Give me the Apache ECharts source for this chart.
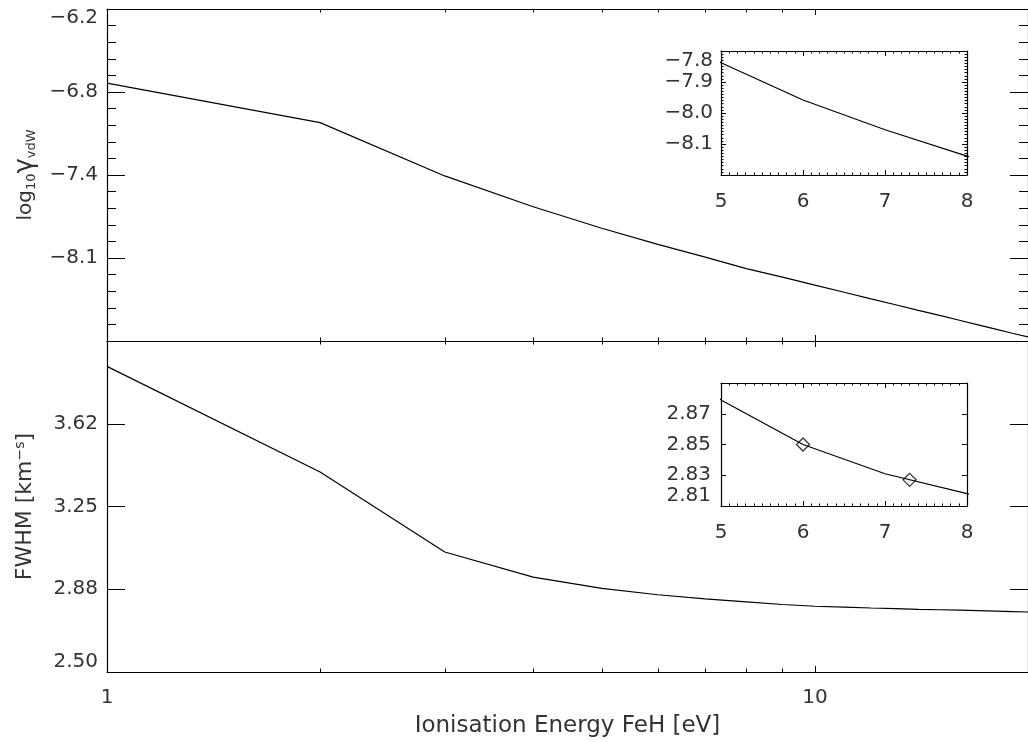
<!DOCTYPE html>
<html>
<head>
<meta charset="utf-8">
<title>FeH van der Waals damping vs ionisation energy</title>
<script src="https://cdn.jsdelivr.net/npm/echarts@6/dist/echarts.min.js"></script>
<style>
  html, body { margin: 0; padding: 0; background: #ffffff; }
  #chart { width: 1028px; height: 742px; }
</style>
</head>
<body>
<div id="chart"></div>
<script>
// Ionisation energy of the perturber (eV)
const energies = [1, 2, 3, 4, 5, 6, 7, 8, 9, 10, 11, 12, 13, 14, 15, 16, 17, 18, 19, 20];
// log10 of the van der Waals damping constant
const logGamma = [-6.754, -7.049, -7.447, -7.677, -7.838, -7.958, -8.054, -8.139, -8.203, -8.263,
                  -8.316, -8.365, -8.409, -8.451, -8.489, -8.525, -8.559, -8.591, -8.622, -8.650];
// Line width (FWHM, km/s)
const fwhm = [3.885, 3.406, 3.044, 2.930, 2.879, 2.850, 2.831, 2.818, 2.806, 2.798,
              2.794, 2.790, 2.787, 2.784, 2.782, 2.780, 2.778, 2.776, 2.774, 2.772];
// Highlighted energies in the FWHM zoom panel
const markerEnergies = [6.0, 7.3];
const markerFwhm = [2.850, 2.827];

// Axis ranges and tick labels
const xRange = [1, 20];
const xMajorTicks = [1, 10];
const xMinorTicks = [2, 3, 4, 5, 6, 7, 8, 9, 20];
const gammaTicks = [-8.68, -8.06, -7.44, -6.82, -6.20];
const gammaTickText = ['', '\u22128.1', '\u22127.4', '\u22126.8', '{edge|\u22126.2}'];
const fwhmTicks = [2.5, 2.875, 3.25, 3.625, 4.0];
const fwhmTickText = ['2.50', '2.88', '3.25', '3.62', ''];
const zoomXTicks = [5, 6, 7, 8];
const zoomGammaTicks = [-8.2, -8.1, -8.0, -7.9, -7.8];
const zoomGammaText = ['', '\u22128.1', '\u22128.0', '\u22127.9', '\u22127.8'];
const zoomFwhmTicks = [2.81, 2.83, 2.85, 2.87, 2.89];
const zoomFwhmText = ['2.81', '2.83', '2.85', '2.87', ''];

const FONT = 'DejaVu Sans';
const INK = '#000000';
const TEXT = '#333333';

function labelLookup(ticks, texts) {
  return function (v) {
    let best = 0;
    for (let i = 1; i < ticks.length; i++) {
      if (Math.abs(ticks[i] - v) < Math.abs(ticks[best] - v)) best = i;
    }
    return texts[best];
  };
}

const axisLineStyle = { show: true, onZero: false, lineStyle: { color: INK, width: 1.2 } };
const noLine = { show: false, onZero: false };
const labelStyle = { fontFamily: FONT, fontSize: 20, color: TEXT };

function logAxis(grid, position, ticks, len, withLine, labels) {
  return {
    gridIndex: grid, type: 'log', logBase: 10, min: xRange[0], max: xRange[1],
    position: position,
    axisLine: withLine ? axisLineStyle : noLine,
    axisTick: { show: true, inside: true, length: len, customValues: ticks,
                lineStyle: { color: INK, width: 1 } },
    axisLabel: labels ? Object.assign({ show: true, margin: 16, customValues: labels,
                formatter: v => String(Math.round(v)) }, labelStyle) : { show: false },
    splitLine: { show: false }
  };
}

function zoomXAxis(grid, position, withLabels) {
  return {
    gridIndex: grid, type: 'value', min: zoomXTicks[0], max: zoomXTicks[zoomXTicks.length - 1],
    interval: 1, position: position,
    axisLine: axisLineStyle,
    axisTick: { show: true, inside: true, length: 5, lineStyle: { color: INK, width: 1 } },
    minorTick: { show: true, splitNumber: 10, length: 2.5, lineStyle: { color: INK, width: 1 } },
    axisLabel: withLabels ? Object.assign({ show: true, margin: 17,
                formatter: v => String(Math.round(v)) }, labelStyle) : { show: false },
    splitLine: { show: false }, minorSplitLine: { show: false }
  };
}

const hiddenY = g => ({ gridIndex: g, type: 'value', show: false, min: 0, max: 1 });

const xAxes = [
  // main top panel: major ticks (grid 0) and minor ticks (grid 1)
  logAxis(0, 'bottom', xMajorTicks, 6, true, null),
  logAxis(0, 'top', xMajorTicks, 6, true, null),
  logAxis(1, 'bottom', xMinorTicks, 3.5, false, null),
  logAxis(1, 'top', xMinorTicks, 3.5, false, null),
  // main bottom panel
  Object.assign(logAxis(2, 'bottom', xMajorTicks, 6, true, xMajorTicks), {
    name: 'Ionisation Energy FeH [eV]', nameLocation: 'middle', nameGap: 43,
    nameTextStyle: { fontFamily: FONT, fontSize: 23, color: TEXT }
  }),
  logAxis(2, 'top', xMajorTicks, 6, true, null),
  logAxis(3, 'bottom', xMinorTicks, 3.5, false, null),
  logAxis(3, 'top', xMinorTicks, 3.5, false, null),
  // zoom panels
  zoomXAxis(4, 'bottom', true),
  zoomXAxis(4, 'top', false),
  zoomXAxis(5, 'bottom', true),
  zoomXAxis(5, 'top', false)
];

function gammaAxis(position, withLabels) {
  return {
    gridIndex: 0, type: 'value', position: position,
    min: gammaTicks[0], max: gammaTicks[gammaTicks.length - 1],
    interval: gammaTicks[1] - gammaTicks[0],
    axisLine: axisLineStyle,
    axisTick: { show: true, inside: true, length: 18, lineStyle: { color: INK, width: 1 } },
    minorTick: { show: true, splitNumber: 5, length: 9, lineStyle: { color: INK, width: 1 } },
    axisLabel: withLabels ? Object.assign({ show: true, margin: 9,
                formatter: labelLookup(gammaTicks, gammaTickText),
                rich: { edge: { fontFamily: FONT, fontSize: 20, color: TEXT, padding: [18, 0, 0, 0] } }
              }, labelStyle) : { show: false },
    splitLine: { show: false }, minorSplitLine: { show: false }
  };
}

function fwhmAxis(position, withLabels) {
  return {
    gridIndex: 2, type: 'value', position: position,
    min: fwhmTicks[0], max: fwhmTicks[fwhmTicks.length - 1],
    axisLine: axisLineStyle,
    axisTick: { show: true, inside: true, length: 18, customValues: fwhmTicks,
                lineStyle: { color: INK, width: 1 } },
    axisLabel: withLabels ? Object.assign({ show: true, margin: 9, customValues: fwhmTicks,
                formatter: labelLookup(fwhmTicks, fwhmTickText),
                verticalAlignMinLabel: 'bottom' }, labelStyle) : { show: false },
    splitLine: { show: false }
  };
}

function zoomGammaAxis(position, withLabels) {
  return {
    gridIndex: 4, type: 'value', position: position,
    min: zoomGammaTicks[0], max: zoomGammaTicks[zoomGammaTicks.length - 1], interval: 0.1,
    axisLine: axisLineStyle,
    axisTick: { show: true, inside: true, length: 5, lineStyle: { color: INK, width: 1 } },
    minorTick: { show: true, splitNumber: 10, length: 2.5, lineStyle: { color: INK, width: 1 } },
    axisLabel: withLabels ? Object.assign({ show: true, margin: 8,
                formatter: labelLookup(zoomGammaTicks, zoomGammaText),
                verticalAlignMaxLabel: 'top' }, labelStyle) : { show: false },
    splitLine: { show: false }, minorSplitLine: { show: false }
  };
}

function zoomFwhmAxis(position, withLabels) {
  return {
    gridIndex: 5, type: 'value', position: position,
    min: zoomFwhmTicks[0], max: zoomFwhmTicks[zoomFwhmTicks.length - 1],
    axisLine: axisLineStyle,
    axisTick: { show: true, inside: true, length: 5, customValues: zoomFwhmTicks,
                lineStyle: { color: INK, width: 1 } },
    axisLabel: withLabels ? Object.assign({ show: true, margin: 10, customValues: zoomFwhmTicks,
                formatter: labelLookup(zoomFwhmTicks, zoomFwhmText),
                verticalAlignMinLabel: 'bottom' }, labelStyle) : { show: false },
    splitLine: { show: false }
  };
}

const yAxes = [
  Object.assign(gammaAxis('left', true), {
    name: '{a|log}{s|10}{g|\u03b3}{s|vdW}', nameLocation: 'middle', nameGap: 68, nameRotate: 90,
    nameTextStyle: { fontFamily: FONT, fontSize: 20, color: TEXT, rich: {
      a: { fontFamily: FONT, fontSize: 20, color: TEXT, lineHeight: 22 },
      g: { fontFamily: FONT, fontSize: 26, color: TEXT, lineHeight: 26 },
      s: { fontFamily: FONT, fontSize: 13, color: TEXT, lineHeight: 13, verticalAlign: 'bottom' }
    } }
  }),
  gammaAxis('right', false),
  hiddenY(1),
  Object.assign(fwhmAxis('left', true), {
    name: '{a|FWHM [km}{p|\u2212s}{a|]}', nameLocation: 'middle', nameGap: 70, nameRotate: 90,
    nameTextStyle: { fontFamily: FONT, fontSize: 22, color: TEXT, rich: {
      a: { fontFamily: FONT, fontSize: 22, color: TEXT, lineHeight: 24 },
      p: { fontFamily: FONT, fontSize: 14, color: TEXT, lineHeight: 14, verticalAlign: 'top' }
    } }
  }),
  fwhmAxis('right', false),
  hiddenY(3),
  zoomGammaAxis('left', true),
  zoomGammaAxis('right', false),
  zoomFwhmAxis('left', true),
  zoomFwhmAxis('right', false)
];

const lineStyle = { color: INK, width: 1.2 };
const gammaPoints = energies.map((e, i) => [e, logGamma[i]]);
const fwhmPoints = energies.map((e, i) => [e, fwhm[i]]);

const option = {
  animation: false,
  backgroundColor: '#ffffff',
  grid: [
    { left: 107, right: 0, top: 9, height: 332 },
    { left: 107, right: 0, top: 9, height: 332 },
    { left: 107, right: 0, top: 341, height: 331 },
    { left: 107, right: 0, top: 341, height: 331 },
    { left: 721, top: 51, width: 246, height: 124 },
    { left: 721, top: 383, width: 246, height: 123 }
  ],
  xAxis: xAxes,
  yAxis: yAxes,
  series: [
    { type: 'line', xAxisIndex: 0, yAxisIndex: 0, data: gammaPoints, symbol: 'none',
      lineStyle: lineStyle, silent: true },
    { type: 'line', xAxisIndex: 4, yAxisIndex: 3, data: fwhmPoints, symbol: 'none',
      lineStyle: lineStyle, silent: true },
    { type: 'line', xAxisIndex: 8, yAxisIndex: 6, data: gammaPoints, symbol: 'none',
      lineStyle: lineStyle, silent: true, clip: true },
    { type: 'line', xAxisIndex: 10, yAxisIndex: 8, data: fwhmPoints, symbol: 'none',
      lineStyle: lineStyle, silent: true, clip: true },
    { type: 'scatter', xAxisIndex: 10, yAxisIndex: 8,
      data: markerEnergies.map((e, i) => [e, markerFwhm[i]]),
      symbol: 'diamond', symbolSize: [13, 13], silent: true,
      itemStyle: { color: 'rgba(255,255,255,0)', borderColor: INK, borderWidth: 1.3 } }
  ]
};

const chart = echarts.init(document.getElementById('chart'), null, { renderer: 'canvas' });
chart.setOption(option);
</script>
</body>
</html>
